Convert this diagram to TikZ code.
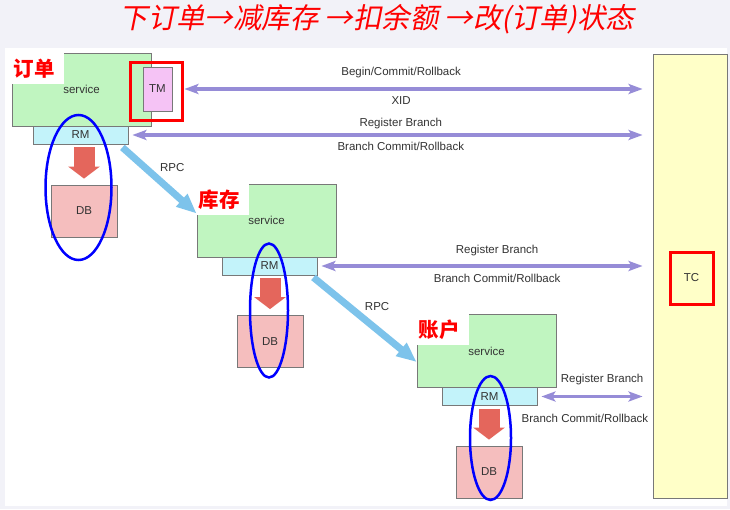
\documentclass[tikz,border=0pt]{standalone}
\usepackage{fontspec}
\setmainfont{Liberation Sans}
\newfontfamily\cjk{Noto Sans CJK SC}
\newfontfamily\cjktitle[FakeSlant=0.2]{Noto Sans CJK SC}
\usepackage{tikz}
\usetikzlibrary{
  shapes.geometric,
  arrows.meta,
  positioning
}
\definecolor{PageGray}{RGB}{242, 242, 248}
\definecolor{SvcGreen}{RGB}{192, 245, 192}
\definecolor{RmCyan}{RGB}{195, 243, 250}
\definecolor{TmPink}{RGB}{245, 195, 245}
\definecolor{DbPink}{RGB}{245, 190, 190}
\definecolor{TcYellow}{RGB}{255, 255, 200}
\definecolor{BoxEdge}{RGB}{120, 120, 120}
\definecolor{SyncPurple}{RGB}{150, 140, 215}
\definecolor{RpcBlue}{RGB}{125, 195, 235}
\definecolor{DbRed}{RGB}{228, 102, 92}
\definecolor{LabelGray}{RGB}{51, 51, 51}
\tikzset{
    box/.style={rectangle, draw=BoxEdge, line width=0.8pt, inner sep=0pt,
        font=\fontsize{11.5}{13}\selectfont, text=LabelGray},
    svcbox/.style={box, fill=SvcGreen, minimum width=139pt, minimum height=73pt},
    rmbox/.style={box, fill=RmCyan, minimum width=95pt, minimum height=18pt},
    dbbox/.style={box, fill=DbPink, minimum width=66pt, minimum height=52pt},
    tagbox/.style={rectangle, fill=white, anchor=north west, text width=48pt,
        inner xsep=2pt, inner ysep=0pt, minimum height=31pt,
        font=\cjk\bfseries\fontsize{20.5}{22}\selectfont, text=red},
    redframe/.style={rectangle, draw=red, line width=3pt, inner sep=0pt,
        font=\fontsize{11.5}{13}\selectfont, text=LabelGray},
    ring/.style={ellipse, draw=blue, line width=2.5pt, inner sep=0pt},
    sync/.style={SyncPurple, line width=3.5pt,
        {Stealth[length=14pt,width=10pt,inset=3pt]}-{Stealth[length=14pt,width=10pt,inset=3pt]}},
    rpc/.style={RpcBlue, line width=7pt, -{Triangle[length=20pt,width=16pt]}},
    dbarrow/.style={DbRed, line width=21pt, -{Triangle[length=12pt,width=31pt]},
        shorten <=3pt, shorten >=6pt},
    msg/.style={font=\fontsize{11.5}{13}\selectfont, text=LabelGray, inner sep=0pt}
}

\begin{document}
\begin{tikzpicture}[x=1pt, y=-1pt]
    \useasboundingbox (0,0) rectangle (730,509);
    \fill[PageGray] (0,0) rectangle (730,509);
    \fill[white] (5,48) rectangle (727,506);
    \node[text=red, font=\cjktitle\fontsize{28.4}{32}\selectfont] (title) at (377,19)
        {下订单→减库存 →扣余额 →改(订单)状态};

    % transaction coordinator
    \node[box, fill=TcYellow, minimum width=74pt, minimum height=444pt] (tc) at (690,276) {};
    \node[redframe, minimum width=43pt, minimum height=52pt] (tcframe) at (691.5,278) {TC};
    \coordinate (tcedge) at ([xshift=-10pt]tc.west);

    % order service
    \node[svcbox] (svc1) at (81.5,89.5) {service};
    \node[tagbox] (tag1) at (svc1.north west) {订单};
    \node[box, fill=TmPink, minimum width=29pt, minimum height=44pt] (tm) at (157.5,89) {TM};
    \node[redframe, minimum width=52pt, minimum height=58pt] (tmframe) at (156,91) {};
    \node[rmbox] (rm1) at (80.5,135) {RM};
    \node[dbbox] (db1) at (84,211) {DB};
    \draw[dbarrow] (db1.north |- rm1.south) -- (db1.north);

    % stock service
    \node[svcbox] (svc2) at (266.5,220.5) {service};
    \node[tagbox] (tag2) at (svc2.north west) {库存};
    \node[rmbox] (rm2) at (269.5,266) {RM};
    \node[dbbox] (db2) at (270,341.5) {DB};
    \draw[dbarrow] (db2.north |- rm2.south) -- (db2.north);

    % account service
    \node[svcbox] (svc3) at (486.5,351) {service};
    \node[tagbox] (tag3) at (svc3.north west) {账户};
    \node[rmbox] (rm3) at (489.5,396.5) {RM};
    \node[dbbox] (db3) at (489,472) {DB};
    \draw[dbarrow] (db3.north |- rm3.south) -- (db3.north);

    % messages to the TC
    \draw[sync] ([xshift=12pt]tm.east) -- (tcedge |- tm.east)
        node[msg, pos=0.473, above=9pt] {Begin/Commit/Rollback}
        node[msg, pos=0.473, below=6pt] {XID};
    \draw[sync] ([xshift=4pt]rm1.east) -- (tcedge |- rm1.east)
        node[msg, pos=0.526, above=4pt] {Register Branch}
        node[msg, pos=0.526, below=5pt] {Branch Commit/Rollback};
    \draw[sync] ([xshift=4pt]rm2.east) -- (tcedge |- rm2.east)
        node[msg, pos=0.547, above=8pt] {Register Branch}
        node[msg, pos=0.547, below=6pt] {Branch Commit/Rollback};
    \draw[sync] ([xshift=4pt]rm3.east) -- (tcedge |- rm3.east)
        node[msg, pos=0.60, above=10pt] {Register Branch}
        node[msg, pos=0.43, below=16pt] {Branch Commit/Rollback};

    % rpc calls
    \draw[rpc] ([xshift=-6pt, yshift=-3pt]rm1.south east) -- ([yshift=7pt]svc2.west)
        node[msg, pos=0.3, right=12pt] {RPC};
    \draw[rpc] ([xshift=-4pt, yshift=-2pt]rm2.south east) -- ([yshift=-11pt]svc3.west)
        node[msg, pos=0.34, right=13pt] {RPC};

    % local branches
    \node[ring, minimum width=66pt, minimum height=145pt] (ring1) at (78.5,187.5) {};
    \node[ring, minimum width=38pt, minimum height=134pt] (ring2) at (269,310.5) {};
    \node[ring, minimum width=41pt, minimum height=124pt] (ring3) at (490.5,438) {};
\end{tikzpicture}
\end{document}
